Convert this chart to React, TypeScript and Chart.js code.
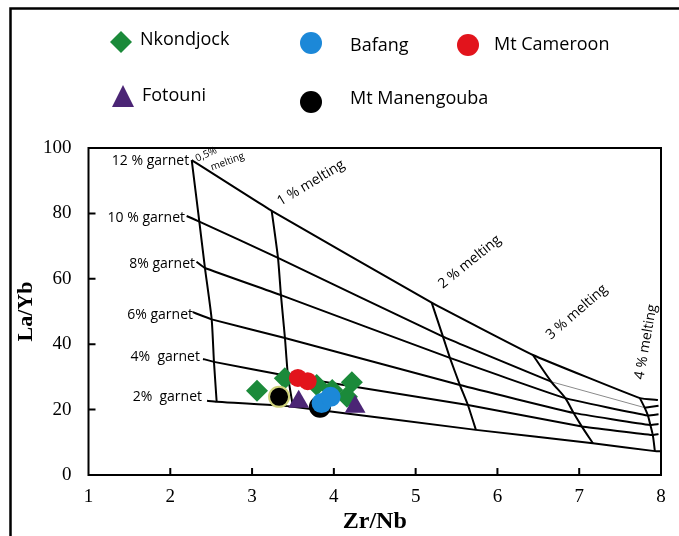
import React, { useEffect, useRef } from 'react';
import { Chart, registerables } from 'chart.js';

Chart.register(...registerables);

// ---------- axis ticks ----------
const xTickValues = [1, 2, 3, 4, 5, 6, 7, 8];
const yTickValues = [0, 20, 40, 60, 80, 100];

// ---------- sample series (Zr/Nb, La/Yb) ----------
const nkondjockX = [3.06, 3.40, 3.79, 3.98, 4.22, 4.16];
const nkondjockY = [25.8, 29.6, 27.5, 26.0, 28.4, 23.9];
const bafangX = [3.85, 3.96];
const bafangY = [22.0, 23.9];
const cameroonX = [3.56, 3.68];
const cameroonY = [29.7, 28.7];
const fotouniX = [3.57, 4.26];
const fotouniY = [22.4, 20.9];
const manengoubaX = [3.33, 3.83];
const manengoubaY = [23.9, 20.9];

// ---------- melting model curves ----------
const melt05 = [[2.262, 96.3], [2.355, 77.5], [2.424, 63.3], [2.506, 47.6], [2.534, 34.6], [2.567, 22.4]];
const melt1 = [[3.240, 80.8], [3.317, 66.4], [3.353, 55.0], [3.402, 41.9], [3.439, 30.3], [3.500, 20.9]];
const melt2 = [[5.196, 52.7], [5.334, 42.3], [5.419, 35.8], [5.541, 27.5], [5.639, 21.4], [5.737, 13.8]];
const melt3 = [[6.434, 36.7], [6.66, 28.5], [6.83, 23.5], [6.93, 19.0], [7.033, 14.8], [7.167, 9.7]];
const melt4 = [[7.742, 23.5], [7.80, 20.6], [7.84, 18.2], [7.87, 15.3], [7.90, 12.2], [7.925, 7.3]];

const garnet12 = [[2.262, 96.3], [3.240, 80.8], [5.196, 52.7], [6.434, 36.7], [7.742, 23.5], [7.962, 22.9]];
const garnet10 = [[2.200, 79.2], [2.355, 77.5], [3.317, 66.4], [5.334, 42.3], [6.66, 28.5]];
const garnet10Faint = [[6.66, 28.5], [7.80, 20.6]];
const garnet10End = [[7.80, 20.6], [7.97, 21.2]];
const garnet8 = [[2.320, 65.2], [2.424, 63.3], [3.353, 55.0], [5.419, 35.8], [6.83, 23.5], [7.84, 18.2], [7.97, 18.6]];
const garnet6 = [[2.274, 49.8], [2.506, 47.6], [3.402, 41.9], [5.541, 27.5], [6.93, 19.0], [7.87, 15.3], [7.97, 15.6]];
const garnet4 = [[2.400, 35.5], [2.534, 34.6], [3.439, 30.3], [5.639, 21.4], [7.033, 14.8], [7.90, 12.2], [7.97, 12.5]];
const garnet2 = [[2.449, 22.7], [2.567, 22.4], [3.500, 20.9], [5.737, 13.8], [7.167, 9.7], [7.925, 7.3], [7.99, 7.3]];

// ---------- curve labels ----------
const garnetLabels = ['12 % garnet', '10 % garnet', '8% garnet', '6% garnet', '4%  garnet', '2%  garnet'];
const garnetLabelX = [2.231, 2.180, 2.302, 2.278, 2.363, 2.388];
const garnetLabelY = [96.0, 78.6, 64.5, 48.9, 36.1, 23.9];
const meltLabels = ['1 % melting', '2 % melting', '3 % melting', '4 % melting'];
const meltLabelX = [3.72, 5.66, 6.97, 7.817];
const meltLabelY = [89.3, 65.1, 49.8, 40.7];
const meltLabelAngle = [-31, -39, -41, -80];

const GREEN = '#1b8a3a';
const BLUE = '#1c88d8';
const RED = '#e2141c';
const PURPLE = '#4b2575';
const BLACK = '#000000';

const SANS = "'Open Sans', 'Noto Sans', sans-serif";
const SERIF = "'Liberation Serif', 'Times New Roman', serif";

const pts = (xs: number[], ys: number[]) => xs.map((x, i) => ({ x, y: ys[i] }));
const pairPts = (arr: number[][]) => arr.map(([x, y]) => ({ x, y }));

function lineDs(arr: number[][], tension = 0, color = BLACK, width = 2) {
  return {
    type: 'scatter' as const,
    data: pairPts(arr),
    showLine: true,
    borderColor: color,
    borderWidth: width,
    pointRadius: 0,
    tension,
    fill: false,
    order: 10,
  };
}

const framePlugin = {
  id: 'frame',
  beforeDatasetsDraw(chart: any) {
    const { ctx, chartArea: a, scales } = chart;
    ctx.save();
    ctx.strokeStyle = '#000';
    ctx.lineWidth = 2;
    ctx.strokeRect(a.left, a.top, a.right - a.left, a.bottom - a.top);
    ctx.beginPath();
    for (const v of yTickValues) {
      if (v === 0 || v === 100) continue;
      const y = scales.y.getPixelForValue(v);
      ctx.moveTo(a.left, y);
      ctx.lineTo(a.left + 7, y);
    }
    for (const v of xTickValues) {
      if (v === 1 || v === 8) continue;
      const x = scales.x.getPixelForValue(v);
      ctx.moveTo(x, a.bottom);
      ctx.lineTo(x, a.bottom - 7);
    }
    ctx.stroke();
    ctx.restore();
  },
};

const labelPlugin = {
  id: 'curveLabels',
  afterDatasetsDraw(chart: any) {
    const { ctx, scales } = chart;
    const px = (v: number) => scales.x.getPixelForValue(v);
    const py = (v: number) => scales.y.getPixelForValue(v);
    ctx.save();
    ctx.fillStyle = '#000';
    ctx.font = `14px ${SANS}`;
    ctx.textBaseline = 'middle';
    ctx.textAlign = 'right';
    garnetLabels.forEach((t, i) => ctx.fillText(t, px(garnetLabelX[i]), py(garnetLabelY[i])));
    ctx.textAlign = 'center';
    meltLabels.forEach((t, i) => {
      ctx.save();
      ctx.translate(px(meltLabelX[i]), py(meltLabelY[i]));
      ctx.rotate((meltLabelAngle[i] * Math.PI) / 180);
      ctx.fillText(t, 0, 0);
      ctx.restore();
    });
    ctx.font = `10px ${SANS}`;
    ctx.save();
    ctx.translate(px(2.44), py(98.0));
    ctx.rotate((-25 * Math.PI) / 180);
    ctx.fillText('0,5%', 0, 0);
    ctx.restore();
    ctx.save();
    ctx.translate(px(2.70), py(95.8));
    ctx.rotate((-20 * Math.PI) / 180);
    ctx.fillText('melting', 0, 0);
    ctx.restore();
    ctx.restore();
  },
};

const legendPlugin = {
  id: 'customLegend',
  afterDraw(chart: any) {
    const { ctx } = chart;
    ctx.save();
    // outer frame
    ctx.strokeStyle = '#000';
    ctx.lineWidth = 2.5;
    ctx.beginPath();
    ctx.moveTo(10.5, 540);
    ctx.lineTo(10.5, 8.5);
    ctx.lineTo(690, 8.5);
    ctx.stroke();

    const circle = (x: number, y: number, r: number, c: string) => {
      ctx.beginPath();
      ctx.arc(x, y, r, 0, Math.PI * 2);
      ctx.fillStyle = c;
      ctx.fill();
    };
    // diamond
    ctx.beginPath();
    ctx.moveTo(121, 31);
    ctx.lineTo(132, 42);
    ctx.lineTo(121, 53);
    ctx.lineTo(110, 42);
    ctx.closePath();
    ctx.fillStyle = GREEN;
    ctx.fill();
    circle(311, 43, 11, BLUE);
    circle(468, 45, 11, RED);
    // triangle
    ctx.beginPath();
    ctx.moveTo(123, 85);
    ctx.lineTo(134, 107);
    ctx.lineTo(112, 107);
    ctx.closePath();
    ctx.fillStyle = PURPLE;
    ctx.fill();
    circle(311, 102, 11, BLACK);

    ctx.fillStyle = '#000';
    ctx.font = `18px ${SANS}`;
    ctx.textAlign = 'left';
    ctx.textBaseline = 'middle';
    ctx.fillText('Nkondjock', 140, 40);
    ctx.fillText('Bafang', 350, 46);
    ctx.fillText('Mt Cameroon', 494, 45);
    ctx.fillText('Fotouni', 142, 96);
    ctx.fillText('Mt Manengouba', 350, 99);
    ctx.restore();
  },
};

export default function App() {
  const ref = useRef<HTMLCanvasElement>(null);

  useEffect(() => {
    const canvas = ref.current;
    if (!canvas) return;

    const datasets: any[] = [
      {
        label: 'Bafang', data: pts(bafangX, bafangY), backgroundColor: BLUE, borderColor: BLUE,
        pointStyle: 'circle', pointRadius: 10, borderWidth: 0, order: 1,
      },
      {
        label: 'Mt Manengouba', data: pts(manengoubaX, manengoubaY), backgroundColor: BLACK,
        borderColor: ['#cfd27c', BLACK], pointStyle: 'circle', pointRadius: 10, borderWidth: 2, order: 2,
      },
      {
        label: 'Fotouni', data: pts(fotouniX, fotouniY), backgroundColor: PURPLE, borderColor: PURPLE,
        pointStyle: 'triangle', pointRadius: 12, borderWidth: 0, order: 3,
      },
      {
        label: 'Mt Cameroon', data: pts(cameroonX, cameroonY), backgroundColor: RED, borderColor: RED,
        pointStyle: 'circle', pointRadius: 9, borderWidth: 0, order: 4,
      },
      {
        label: 'Nkondjock', data: pts(nkondjockX, nkondjockY), backgroundColor: GREEN, borderColor: GREEN,
        pointStyle: 'rectRot', pointRadius: 11, borderWidth: 0, order: 5,
      },
      lineDs(melt05, 0.2),
      lineDs(melt1, 0.2),
      lineDs(melt2, 0.1),
      lineDs(melt3, 0.3),
      lineDs(melt4, 0.3),
      lineDs(garnet12, 0.1),
      lineDs(garnet10, 0.1),
      lineDs(garnet10Faint, 0, '#8a8a8a', 1),
      lineDs(garnet10End, 0.2),
      lineDs(garnet8, 0.1),
      lineDs(garnet6, 0.1),
      lineDs(garnet4, 0.1),
      lineDs(garnet2, 0.1),
    ];

    const chart = new Chart(canvas, {
      type: 'scatter',
      data: { datasets },
      options: {
        animation: false,
        responsive: false,
        events: [],
        layout: { padding: { left: 0, top: 148, right: 18, bottom: 0 } },
        plugins: { legend: { display: false }, tooltip: { enabled: false } },
        scales: {
          x: {
            type: 'linear',
            min: 1,
            max: 8,
            afterBuildTicks: (s: any) => { s.ticks = xTickValues.map((v) => ({ value: v })); },
            afterFit: (s: any) => { s.height = 61; },
            grid: { display: false, drawTicks: false },
            border: { display: false },
            ticks: { color: '#000', font: { family: SERIF, size: 19 }, padding: 11, maxRotation: 0, autoSkip: false },
            title: {
              display: true, text: 'Zr/Nb', color: '#000',
              font: { family: SERIF, size: 24, weight: 'bold' }, padding: { top: 0, bottom: 0 },
            },
          },
          y: {
            type: 'linear',
            min: 0,
            max: 100,
            afterBuildTicks: (s: any) => { s.ticks = yTickValues.map((v) => ({ value: v })); },
            afterFit: (s: any) => { s.width = 88.5; },
            grid: { display: false, drawTicks: false },
            border: { display: false },
            ticks: { color: '#000', font: { family: SERIF, size: 19 }, padding: 17, autoSkip: false },
            title: {
              display: true, text: 'La/Yb', color: '#000',
              font: { family: SERIF, size: 22, weight: 'bold' }, padding: { top: 13, bottom: 0 },
            },
          },
        },
      },
      plugins: [framePlugin, labelPlugin, legendPlugin],
    } as any);

    return () => chart.destroy();
  }, []);

  return (
    <div style={{ position: 'fixed', left: 0, top: 0, width: 679, height: 536, background: '#fff', overflow: 'hidden' }}>
      <canvas ref={ref} width={679} height={536} style={{ display: 'block' }} />
    </div>
  );
}
